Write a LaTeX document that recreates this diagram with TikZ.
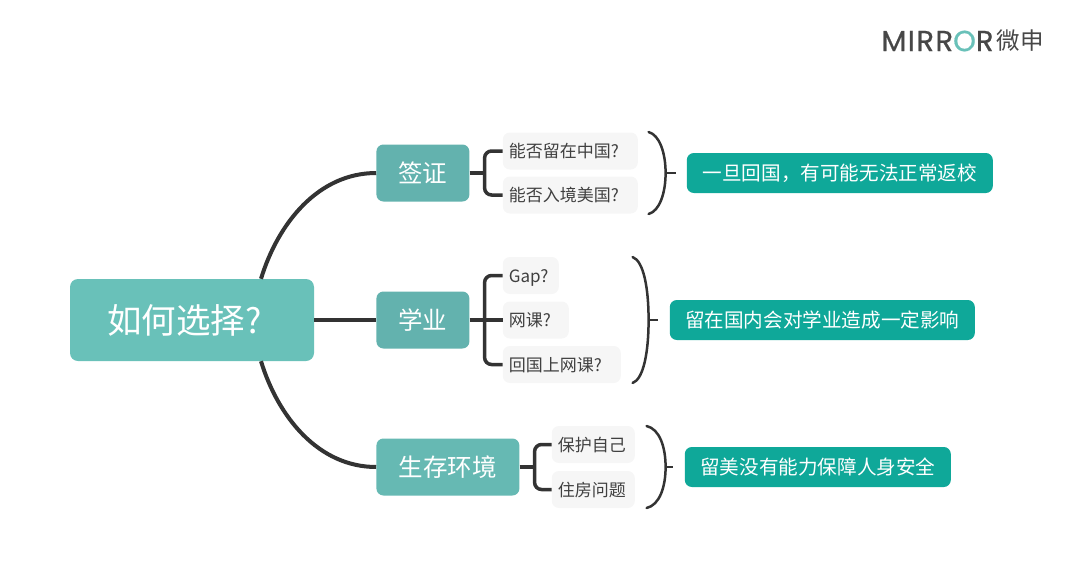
\documentclass[tikz,border=0pt]{standalone}
\usepackage{fontspec}
\setmainfont{Noto Sans CJK SC}
\newfontfamily\logofont[LetterSpace=5,FakeBold=0.6]{Poppins}
\usepackage{xcolor}
\usetikzlibrary{positioning}
\definecolor{rootteal}{HTML}{69C1B9}
\definecolor{midteal}{HTML}{63B2AE}
\definecolor{lowteal}{HTML}{66B9B3}
\definecolor{darkteal}{HTML}{0FA899}
\definecolor{leafgrey}{HTML}{F6F6F6}
\definecolor{inkgrey}{HTML}{333333}
\tikzset{
  rootbox/.style={rectangle, rounded corners=8pt, fill=rootteal, text=white,
    minimum width=244pt, minimum height=82pt, inner sep=0pt, font=\fontsize{34.5}{40}\selectfont},
  topicbox/.style={rectangle, rounded corners=7pt, fill=#1, text=white,
    minimum height=57pt, inner sep=0pt, font=\fontsize{24.5}{30}\selectfont},
  leaf/.style={rectangle, rounded corners=7pt, fill=leafgrey, text=black!75,
    text width=#1-12pt, inner xsep=6pt, inner ysep=0pt, minimum height=37pt,
    text height=14pt, text depth=1pt, align=left, font=\fontsize{17}{21}\selectfont},
  result/.style={rectangle, rounded corners=7pt, fill=darkteal, text=white,
    minimum width=#1, minimum height=40pt, inner sep=0pt, font=\fontsize{19.6}{24}\selectfont},
  logo/.style={inner sep=0pt, text=black!72},
  trunk/.style={draw=inkgrey, line width=4pt},
  fork/.style={draw=inkgrey, line width=3.5pt, rounded corners=7pt},
  paren/.style={draw=inkgrey, line width=2.5pt, line cap=round},
  tick/.style={draw=inkgrey, line width=2pt},
}
\begin{document}
\begin{tikzpicture}[x=1pt,y=-1pt]
  \useasboundingbox (0,0) rectangle (1080,579);
  \node[rootbox] (root) at (192,320) {如何选择?\kern15pt};
  \node[topicbox=midteal, minimum width=93pt, right=62pt of root, yshift=147pt] (visa) {签证};
  \node[topicbox=midteal, minimum width=93pt, right=62pt of root] (study) {学业};
  \node[topicbox=lowteal, minimum width=143pt, right=62pt of root, yshift=-147pt] (living) {生存环境};
  % visa branch
  \node[leaf=135pt, right=33pt of visa, yshift=22pt] (stay) {能否留在中国?};
  \node[leaf=135pt, right=33pt of visa, yshift=-22pt] (enter) {能否入境美国?};
  \node[result=306pt, right=217pt of visa] (visaend) {一旦回国\char"FF0C\relax 有可能无法正常返校};
  % study branch
  \node[leaf=56pt, right=33pt of study, yshift=44.5pt] (gap) {Gap?};
  \node[leaf=66pt, right=33pt of study] (online) {网课?};
  \node[leaf=118pt, right=33pt of study, yshift=-44.5pt] (home) {回国上网课?};
  \node[result=305pt, right=200pt of study] (studyend) {留在国内会对学业造成一定影响};
  % living branch
  \node[leaf=83pt, right=32pt of living, yshift=22.5pt] (guard) {保护自己};
  \node[leaf=83pt, right=32pt of living, yshift=-22.5pt] (house) {住房问题};
  \node[result=266pt, right=165pt of living] (livingend) {留美没有能力保障人身安全};
  % logo
  \node[logo, font=\logofont\fontsize{29}{32}\selectfont] (brand) at (937.5,41) {MIRR\textcolor{rootteal}{O}R};
  \node[logo, font=\fontsize{23.5}{30}\selectfont, right=3pt of brand] (brandcn) {微申};

  \coordinate[right=15pt of visa] (visafork);
  \coordinate[right=15pt of study] (studyfork);
  \coordinate[right=15pt of living] (livingfork);
  \coordinate[right=179pt of visa, yshift=41pt] (visatop);
  \coordinate[right=179pt of visa, yshift=-41pt] (visabot);
  \coordinate[right=196pt of visa] (visamid);
  \coordinate[right=206pt of visa] (visatip);
  \coordinate[right=163pt of study, yshift=63pt] (studytop);
  \coordinate[right=163pt of study, yshift=-63pt] (studybot);
  \coordinate[right=179pt of study] (studymid);
  \coordinate[right=188pt of study] (studytip);
  \coordinate[right=127pt of living, yshift=41pt] (livingtop);
  \coordinate[right=127pt of living, yshift=-41pt] (livingbot);
  \coordinate[right=146pt of living] (livingmid);
  \coordinate[right=153pt of living] (livingtip);

  \draw[trunk] ([xshift=69pt]root.north) to[out=73,in=180,looseness=0.95] (visa.west);
  \draw[trunk] (root) -- (study);
  \draw[trunk] ([xshift=69pt]root.south) to[out=-73,in=180,looseness=0.95] (living.west);

  \draw[fork] (stay.west) -| (visafork) |- (enter.west);
  \draw[fork] (gap.west) -| (studyfork) |- (home.west);
  \draw[fork] (guard.west) -| (livingfork) |- (house.west);
  \draw[fork, rounded corners=0pt] (visa) -- (visafork);
  \draw[fork, rounded corners=0pt] (study) -- (online);
  \draw[fork, rounded corners=0pt] (living) -- (livingfork);

  \draw[paren] (visatop) .. controls +(11,3) and +(0,-20) .. (visamid) .. controls +(0,20) and +(11,-3) .. (visabot);
  \draw[paren] (studytop) .. controls +(11,4) and +(0,-32) .. (studymid) .. controls +(0,32) and +(11,-4) .. (studybot);
  \draw[paren] (livingtop) .. controls +(13,3) and +(0,-20) .. (livingmid) .. controls +(0,20) and +(13,-3) .. (livingbot);
  \draw[tick] (visamid) -- (visatip);
  \draw[tick] (studymid) -- (studytip);
  \draw[tick] (livingmid) -- (livingtip);
\end{tikzpicture}
\end{document}
